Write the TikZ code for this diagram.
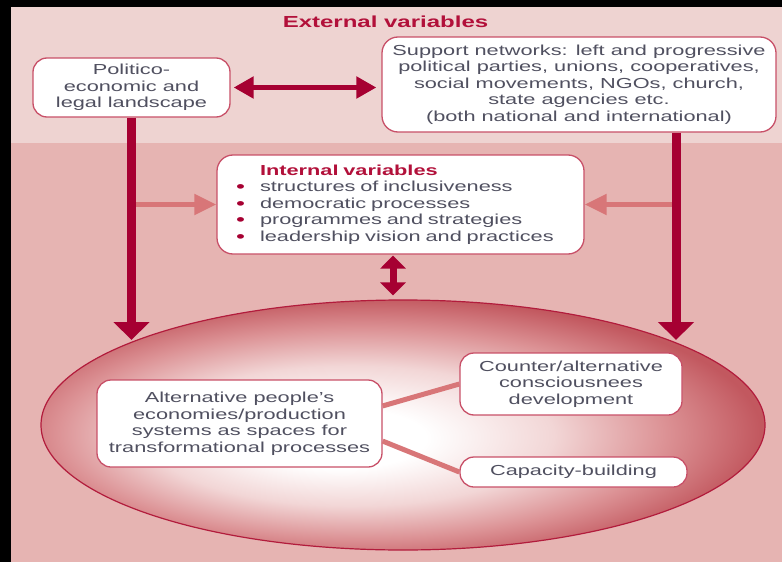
\documentclass[tikz,border=0pt]{standalone}
\usepackage{fontspec}
\setmainfont{Liberation Sans}[FakeStretch=1.5]
\usepackage{xcolor}
\definecolor{bandtop}{RGB}{238,211,209}
\definecolor{bandlow}{RGB}{230,180,178}
\definecolor{deepred}{RGB}{166,0,50}
\definecolor{softred}{RGB}{216,118,120}
\definecolor{boxline}{RGB}{200,80,104}
\definecolor{inktext}{RGB}{80,80,96}
\definecolor{titlered}{RGB}{178,16,58}
\definecolor{ovaledge}{RGB}{194,88,95}
\definecolor{ovalmid}{RGB}{220,146,149}
\definecolor{ovalpale}{RGB}{242,214,214}
\definecolor{ovalline}{RGB}{178,28,60}
\usetikzlibrary{positioning,arrows.meta,shapes.geometric}
\pgfdeclareradialshading{ovalglow}{\pgfpoint{-5bp}{-3bp}}{color(0bp)=(white); color(6bp)=(white); color(14bp)=(ovalpale); color(21bp)=(ovalmid); color(27bp)=(ovaledge); color(50bp)=(ovaledge)}
\newcommand{\redbullet}{\makebox[24pt][l]{\raisebox{-1.2pt}{\fontsize{17}{16}\selectfont\textcolor{deepred}{\textbullet}}}}

\begin{document}
\begin{tikzpicture}[
      x=1pt,y=-1pt,
      txt/.style={font=\fontsize{14.5}{16.5}\selectfont,text=inktext,align=center},
      card/.style={txt,draw=boxline,line width=1.3pt,fill=white,
        rounded corners=14pt,inner sep=0pt},
      bigarrow/.style={deepred,line width=9pt,-{Triangle[width=35pt,length=18pt]}},
      linkarrow/.style={deepred,line width=5pt,
        {Triangle[width=21pt,length=20pt]}-{Triangle[width=21pt,length=20pt]}},
      twoway/.style={deepred,line width=7pt,
        {Triangle[width=25pt,length=13pt]}-{Triangle[width=25pt,length=13pt]}},
      sidearrow/.style={softred,line width=5pt,-{Triangle[width=20pt,length=22pt]}},
      tie/.style={softred,line width=5pt}
    ]
    % bands
    \fill[black] (0,0) rectangle (782,562);
    \fill[bandtop] (11,7) rectangle (782,143);
    \fill[bandlow] (11,143) rectangle (782,562);
    \node[font=\bfseries\fontsize{16}{19}\selectfont,text=titlered] (ext)
    at (385.5,22) {External variables};

    \node[ellipse,draw=ovalline,line width=1.2pt,shading=ovalglow,
      minimum width=724pt,minimum height=250pt,inner sep=0pt] (oval) at (403,425) {};

    \node[card,minimum width=197pt,minimum height=59pt] (pol) at (131.5,87.5)
    {Politico-\\economic and\\legal landscape};
    \node[card,rounded corners=16pt,minimum width=394pt,minimum height=95pt] (sup)
    at (579,84.5) {Support networks: left and progressive\\political parties,
      unions, cooperatives,\\social movements, NGOs, church,\\state agencies
      etc.\\(both national and international)};
    \node[card,rounded corners=16pt,align=left,text width=329pt,inner xsep=19pt,
      minimum height=99pt] (int) at (400.5,204.5)
    {\hspace*{24pt}\textcolor{titlered}{\bfseries Internal variables}\\
      \redbullet structures of inclusiveness\\
      \redbullet democratic processes\\
      \redbullet programmes and strategies\\
      \redbullet leadership vision and practices};
    \node[card,minimum width=285pt,minimum height=87pt] (alt) at (239.5,423.5)
    {Alternative people's\\economies/production\\systems as spaces for\\
      transformational processes};
    \node[card,minimum width=222pt,minimum height=62pt] (cnt) at (571,384)
    {Counter/alternative\\consciousnees\\development};
    \node[card,minimum width=227pt,minimum height=30pt] (cap) at (573.5,472)
    {Capacity-building};

    \coordinate (tipL) at (pol.south |- 0,340);
    \coordinate (tipR) at (676,340);
    \coordinate (midx) at (393,0);
    \draw[sidearrow] (int.west -| tipL) -- (int.west);
    \draw[sidearrow] (int.east -| tipR) -- (int.east);
    \draw[bigarrow] (pol.south) -- (tipL);
    \draw[bigarrow] (sup.south -| tipR) -- (tipR);
    \draw[linkarrow,shorten <=3pt,shorten >=5pt] (pol.east) -- (pol.east -| sup.west);
    \draw[twoway,shorten <=1pt,shorten >=4pt] (int.south -| midx) -- (oval.north -| midx);
    \draw[tie] (alt.7) -- (cnt.west);
    \draw[tie] (alt.-7) -- (cap.west);
  \end{tikzpicture}
\end{document}
